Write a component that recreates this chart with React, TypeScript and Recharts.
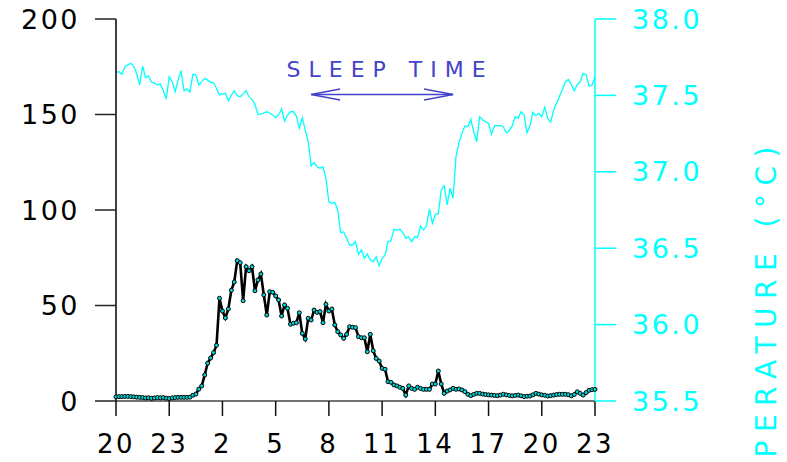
import React from 'react';
import { ComposedChart, Line, XAxis, YAxis, ReferenceLine } from 'recharts';

// Samples every 10 minutes, from 20:00 through 23:00 the following day.
const SAMPLE_MINUTES = 10;

// Plasma level (left axis), one value per sample.
const melatonin = [
  2.2, 2.3, 2.3, 2.4, 2.4, 2.3, 2.2, 2.0, 1.9, 1.8,
  1.6, 1.7, 1.4, 1.6, 1.8, 1.7, 1.8, 1.5, 1.3, 1.6,
  1.8, 1.9, 1.9, 1.9, 1.9, 2.0, 3.0, 3.6, 6.2, 7.9,
  13.6, 19.8, 22.5, 25.3, 29.2, 53.8, 47.1, 43.5, 48.2, 58,
  62.3, 73.5, 72.4, 52.5, 70.3, 68.2, 70.3, 57.7, 63.4, 66.5,
  55.5, 45, 57.2, 56.9, 55, 52.9, 44.5, 50.3, 48.5, 40.2,
  40.7, 41, 46.2, 35.4, 32.5, 43.3, 42.4, 47.6, 46.4, 46.8,
  41, 50.6, 47.1, 48.2, 39.8, 36.3, 34.6, 32.8, 34.9, 38.9,
  38.6, 38.4, 33.7, 33.1, 33.1, 25.8, 34.9, 26.3, 22.3, 20.9,
  17.1, 16.6, 10.1, 9.8, 8.4, 7.9, 7.2, 6.6, 3.1, 7.9,
  6.6, 6.1, 7.2, 6.6, 6.1, 6.1, 6.1, 8.9, 8.9, 15.7,
  8.9, 4, 5.2, 5.8, 6.6, 6.1, 6.3, 5.8, 4.9, 3.5,
  2.8, 3.5, 4.0, 4.0, 3.6, 3.4, 3.2, 3.1, 2.9, 2.8,
  3.1, 3.5, 3.2, 2.9, 2.7, 2.9, 3.1, 2.7, 2.3, 2.5,
  2.6, 3.2, 4.0, 3.6, 3.2, 3.0, 2.6, 2.8, 3.1, 3.4,
  3.5, 3.5, 3.5, 3.3, 2.7, 3.4, 4.8, 4.0, 3.1, 4.4,
  5.6, 5.9, 6.1,
];

// Core body temperature in °C (right axis), one value per sample.
const temperature = [
  37.65, 37.655, 37.638, 37.688, 37.7, 37.71, 37.69, 37.64, 37.568, 37.692,
  37.616, 37.627, 37.586, 37.58, 37.568, 37.575, 37.53, 37.476, 37.622, 37.59,
  37.524, 37.6, 37.661, 37.531, 37.542, 37.522, 37.638, 37.634, 37.568, 37.59,
  37.612, 37.6, 37.586, 37.583, 37.545, 37.503, 37.51, 37.514, 37.465, 37.5,
  37.531, 37.498, 37.491, 37.51, 37.531, 37.49, 37.474, 37.44, 37.376, 37.378,
  37.385, 37.393, 37.385, 37.37, 37.354, 37.372, 37.411, 37.332, 37.37, 37.393,
  37.393, 37.365, 37.285, 37.354, 37.273, 37.197, 37.038, 37.06, 37.033, 37.023,
  37.033, 36.957, 36.804, 36.794, 36.8, 36.75, 36.601, 36.608, 36.565, 36.521,
  36.521, 36.543, 36.46, 36.488, 36.434, 36.462, 36.423, 36.412, 36.444, 36.384,
  36.434, 36.455, 36.543, 36.547, 36.624, 36.619, 36.624, 36.601, 36.565, 36.575,
  36.543, 36.575, 36.569, 36.645, 36.619, 36.645, 36.757, 36.663, 36.722, 36.724,
  36.881, 36.909, 36.783, 36.892, 36.827, 37.1, 37.193, 37.25, 37.3, 37.295,
  37.344, 37.262, 37.197, 37.361, 37.34, 37.328, 37.317, 37.247, 37.302, 37.302,
  37.302, 37.295, 37.256, 37.269, 37.3, 37.36, 37.35, 37.393, 37.372, 37.256,
  37.3, 37.389, 37.367, 37.383, 37.361, 37.422, 37.35, 37.324, 37.404, 37.448,
  37.495, 37.54, 37.59, 37.605, 37.57, 37.53, 37.57, 37.59, 37.645, 37.634,
  37.56, 37.568, 37.619,
];

// Hours elapsed since 20:00 and the clock hour shown at each tick.
const hourTicks = [0, 3, 6, 9, 12, 15, 18, 21, 24, 27];
const hourLabels = ['20', '23', '2', '5', '8', '11', '14', '17', '20', '23'];

const leftTicks = [0, 50, 100, 150, 200];
const rightTicks = [35.5, 36, 36.5, 37, 37.5, 38];

// Sleep period, in hours since 20:00 (07:00 to 15:00), drawn at this left-axis level.
const sleepStart = 11;
const sleepEnd = 19;
const sleepLevel = 160.5;
const sleepLabel = 'SLEEP TIME';
const tempAxisLabel = 'TEMPERATURE (°C)';

const rows = melatonin.map((m, i) => ({
  t: (i * SAMPLE_MINUTES) / 60,
  mel: m,
  temp: temperature[i],
}));

const FONT = '"DejaVu Sans", sans-serif';
const CYAN = '#00ffff';
const ARROW = '#4343c9';

function SleepArrow(props: any) {
  const { x1, y1, x2, y2 } = props;
  const head = 29;
  const spread = 5.5;
  return (
    <g>
      <line x1={x1} y1={y1} x2={x2} y2={y2} stroke={ARROW} strokeWidth={1.4} />
      <polyline
        points={`${x1 + head},${y1 - spread} ${x1},${y1} ${x1 + head},${y1 + spread}`}
        fill="none"
        stroke={ARROW}
        strokeWidth={1.4}
      />
      <polyline
        points={`${x2 - head},${y2 - spread} ${x2},${y2} ${x2 - head},${y2 + spread}`}
        fill="none"
        stroke={ARROW}
        strokeWidth={1.4}
      />
      <text
        x={(x1 + x2) / 2 + 8}
        y={y1 - 17.5}
        textAnchor="middle"
        fill={ARROW}
        fontSize={22}
        letterSpacing={8}
        fontFamily={FONT}
      >
        {sleepLabel}
      </text>
    </g>
  );
}

function TempLabel(props: any) {
  const vb = props.viewBox || { x: 595, y: 19 };
  const x = vb.x + 171;
  const y = vb.y + 321;
  return (
    <text
      x={x}
      y={y}
      transform={`rotate(-90 ${x} ${y})`}
      textAnchor="middle"
      dominantBaseline="central"
      fill={CYAN}
      fontSize={28}
      letterSpacing={8.5}
      fontFamily={FONT}
    >
      {tempAxisLabel}
    </text>
  );
}

const tickFont = { fontSize: 27, fontFamily: FONT, letterSpacing: 2.5 };

export default function App() {
  return (
    <div style={{ position: 'absolute', left: 0, top: 0, background: '#fff' }}>
      <ComposedChart
        width={787}
        height={462}
        data={rows}
        margin={{ top: 19, right: 0, bottom: 0, left: 0 }}
      >
        <XAxis
          dataKey="t"
          type="number"
          domain={[0, 27]}
          ticks={hourTicks}
          tickFormatter={(v: number) => hourLabels[hourTicks.indexOf(v)]}
          height={61}
          tickSize={15}
          tickMargin={19}
          axisLine={{ stroke: '#444', strokeWidth: 1.5 }}
          tickLine={{ stroke: '#111', strokeWidth: 1.5 }}
          tick={{ ...tickFont, fontSize: 26, fill: '#000' }}
          interval={0}
        />
        <YAxis
          yAxisId="left"
          domain={[0, 200]}
          ticks={leftTicks}
          width={116}
          tickSize={21}
          tickMargin={15}
          axisLine={{ stroke: '#000', strokeWidth: 1.5 }}
          tickLine={{ stroke: '#222', strokeWidth: 1.5 }}
          tick={{ ...tickFont, fill: '#000' }}
          interval={0}
        />
        <YAxis
          yAxisId="right"
          orientation="right"
          domain={[35.5, 38]}
          ticks={rightTicks}
          tickFormatter={(v: number) => v.toFixed(1)}
          width={192}
          tickSize={21}
          tickMargin={16}
          axisLine={{ stroke: CYAN, strokeWidth: 1.5 }}
          tickLine={{ stroke: CYAN, strokeWidth: 1.5 }}
          tick={{ ...tickFont, fill: CYAN }}
          interval={0}
          label={{ content: TempLabel }}
        />
        <Line
          yAxisId="right"
          dataKey="temp"
          type="linear"
          stroke={CYAN}
          strokeWidth={1.3}
          dot={false}
          isAnimationActive={false}
        />
        <Line
          yAxisId="left"
          dataKey="mel"
          type="linear"
          stroke="#000"
          strokeWidth={2.6}
          dot={{ r: 2, fill: '#00d6d6', stroke: '#000', strokeWidth: 1 }}
          isAnimationActive={false}
        />
        <ReferenceLine
          yAxisId="left"
          segment={[
            { x: sleepStart, y: sleepLevel },
            { x: sleepEnd, y: sleepLevel },
          ]}
          stroke={ARROW}
          shape={SleepArrow}
        />
      </ComposedChart>
    </div>
  );
}
